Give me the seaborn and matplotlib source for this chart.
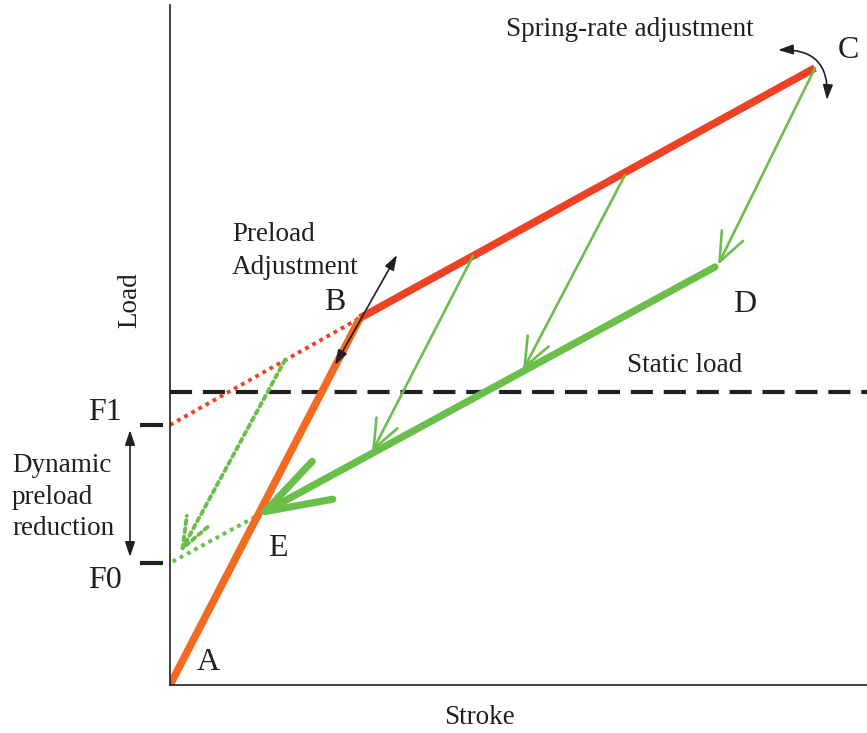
import matplotlib
matplotlib.use('Agg')
import matplotlib.pyplot as plt
import pandas as pd
import seaborn as sns

# ---- schematic data (stroke, load) in arbitrary units ----
static_load = 293
F1_load = 260
F0_load = 122

loading_stroke = [0, 190]          # A -> B (preloaded spring)
loading_load = [0, 367]
spring_stroke = [190, 645]         # B -> C (spring-rate branch)
spring_load = [367, 617]
unload_stroke = [545, 85]          # D -> E (unloading)
unload_load = [418, 168]
preload_ext_stroke = [0, 190]      # F1 -> B (dotted extension)
preload_ext_load = [F1_load, 367]
dyn_ext_stroke = [85, 0]           # E -> F0 (dotted extension)
dyn_ext_load = [168, F0_load]

return_start_stroke = [303, 455, 645]
return_start_load = [429, 510, 617]
return_end_stroke = [202, 353, 548]
return_end_load = [233, 315, 420]

dotted_return_stroke = [115, 10]
dotted_return_load = [325, 132]

point_labels = ['A', 'B', 'C', 'D', 'E']
point_label_x = [38, 165, 678, 575, 108]
point_label_y = [23, 382, 635, 380, 137]

ORANGE = '#f26b21'
RED = '#ef4123'
GREEN = '#6abf4b'
INK = '#231f20'

sns.set_theme(style='white')
plt.rcParams['font.family'] = ['Liberation Serif', 'DejaVu Serif']

fig = plt.figure(figsize=(8.67, 7.33), dpi=100)
ax = fig.add_axes([170 / 867, 48 / 733, 697 / 867, 680 / 733])
ax.set_xlim(0, 697)
ax.set_ylim(0, 680)
for s in ['top', 'right']:
    ax.spines[s].set_visible(False)
for s in ['left', 'bottom']:
    ax.spines[s].set_color(INK)
    ax.spines[s].set_linewidth(1.2)
ax.set_xticks([])
ax.set_yticks([])


def line(xs, ys, **kw):
    df = pd.DataFrame({'x': xs, 'y': ys})
    sns.lineplot(data=df, x='x', y='y', sort=False, estimator=None, ax=ax, **kw)


# static load dashed line
line([0, 697], [static_load, static_load], color=INK, lw=3,
     linestyle=(0, (5.3, 2.6)), dash_capstyle='butt')

# dotted extensions
line(preload_ext_stroke, preload_ext_load, color=RED, lw=2.8,
     linestyle=(0, (1.0, 1.1)), dash_capstyle='butt')
line(dyn_ext_stroke, dyn_ext_load, color=GREEN, lw=2.8,
     linestyle=(0, (1.0, 1.1)), dash_capstyle='butt')

# loading branches
line(loading_stroke, loading_load, color=ORANGE, lw=5.5, solid_capstyle='butt')
line(spring_stroke, spring_load, color=RED, lw=5.5, solid_capstyle='butt')

# thin return arrows
for xs, ys, xe, ye in zip(return_start_stroke, return_start_load,
                          return_end_stroke, return_end_load):
    ax.annotate('', xy=(xe, ye), xytext=(xs, ys),
                arrowprops=dict(arrowstyle='->,head_length=2.1,head_width=0.85',
                                mutation_scale=10, lw=1.9, color=GREEN,
                                shrinkA=0, shrinkB=0))

# dotted return arrow
ax.annotate('', xy=(dotted_return_stroke[1], dotted_return_load[1]),
            xytext=(dotted_return_stroke[0], dotted_return_load[0]),
            arrowprops=dict(arrowstyle='->,head_length=2.2,head_width=0.85',
                            mutation_scale=10, lw=2.8, color=GREEN,
                            linestyle=(0, (1.0, 1.1)), shrinkA=0, shrinkB=0))

# thick unloading arrow D -> E
ax.annotate('', xy=(unload_stroke[1], unload_load[1]),
            xytext=(unload_stroke[0], unload_load[0]),
            arrowprops=dict(arrowstyle='->,head_length=4.7,head_width=1.55',
                            mutation_scale=10, lw=5.2, color=GREEN,
                            shrinkA=0, shrinkB=0))

# preload adjustment arrow
ax.annotate('', xy=(227, 430), xytext=(165, 320),
            arrowprops=dict(arrowstyle='<|-|>,head_length=0.9,head_width=0.3',
                            mutation_scale=10, lw=1.2, color=INK,
                            shrinkA=0, shrinkB=0))

# spring-rate adjustment curved arrow
ax.annotate('', xy=(657, 585), xytext=(608, 635),
            arrowprops=dict(arrowstyle='<|-|>,head_length=0.9,head_width=0.3',
                            mutation_scale=10, lw=1.2, color=INK,
                            connectionstyle='arc3,rad=-0.55',
                            shrinkA=0, shrinkB=0))

# F1 / F0 tick marks and dynamic preload reduction arrow
for yv in [F1_load, F0_load]:
    ax.plot([-30, -7], [yv, yv], color=INK, lw=3, clip_on=False,
            solid_capstyle='butt')
ax.annotate('', xy=(-40, F0_load + 6), xytext=(-40, F1_load - 5),
            annotation_clip=False,
            arrowprops=dict(arrowstyle='<|-|>,head_length=0.9,head_width=0.3',
                            mutation_scale=10, lw=1.2, color=INK,
                            shrinkA=0, shrinkB=0))

# texts
FS = 19.5
for lab, x, y in zip(point_labels, point_label_x, point_label_y):
    ax.text(x, y, lab, fontsize=23, color=INK, ha='center', va='center')
ax.text(-65, 272, 'F1', fontsize=23, color=INK, ha='center', va='center', clip_on=False)
ax.text(-65, 105, 'F0', fontsize=23, color=INK, ha='center', va='center', clip_on=False)
ax.text(460, 655, 'Spring-rate adjustment', fontsize=FS, color=INK, ha='center', va='center')
ax.text(62, 434, 'Preload\nAdjustment', fontsize=FS, color=INK, ha='left', va='center',
        linespacing=1.38)
ax.text(515, 320, 'Static load', fontsize=FS, color=INK, ha='center', va='center')
ax.text(-158, 188, 'Dynamic\npreload\nreduction', fontsize=FS, color=INK, ha='left',
        va='center', linespacing=1.32, clip_on=False)
ax.text(-40, 385, 'Load', fontsize=FS, color=INK, ha='center', va='center',
        rotation=90, clip_on=False)
ax.text(310, -33, 'Stroke', fontsize=FS, color=INK, ha='center', va='center', clip_on=False)
ax.set_xlabel('')
ax.set_ylabel('')

fig.savefig('out.png', dpi=100)
